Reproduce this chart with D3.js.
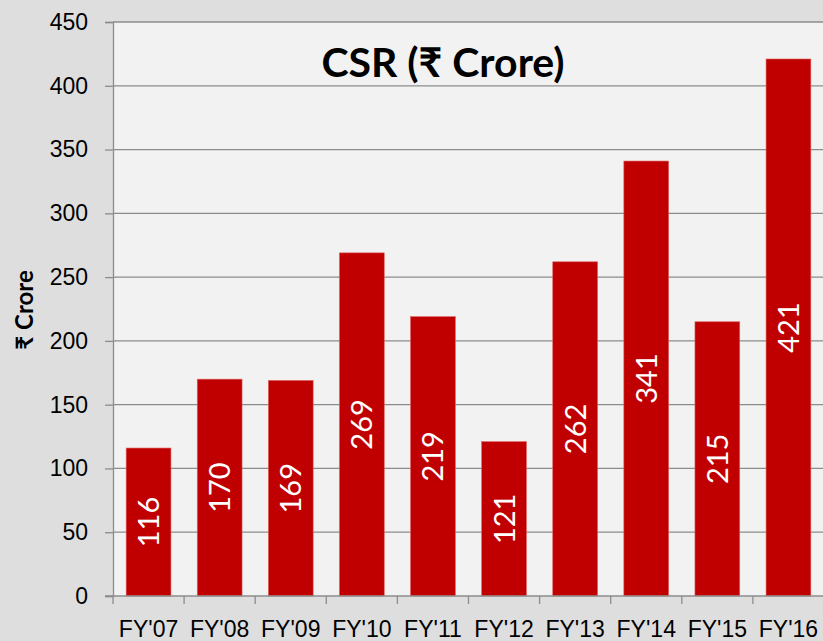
<!DOCTYPE html>
<html>
<head>
<meta charset="utf-8">
<script src="https://cdn.jsdelivr.net/npm/d3@7"></script>
<style>
  html, body { margin: 0; padding: 0; background: #dedede; }
  svg { display: block; font-family: Lato, "Open Sans", "DejaVu Sans", sans-serif; }
</style>
</head>
<body>
<div id="chart"></div>
<script>
// data
var years = ["FY'07", "FY'08", "FY'09", "FY'10", "FY'11", "FY'12", "FY'13", "FY'14", "FY'15", "FY'16"];
var csr = [116, 170, 169, 269, 219, 121, 262, 341, 215, 421];
var yTicks = [0, 50, 100, 150, 200, 250, 300, 350, 400, 450];

function drawChart() {
  var width = 823, height = 641;
  var plotLeft = 113, plotRight = 824, plotTop = 22, plotBottom = 596;

  var svg = d3.select("#chart").append("svg")
    .attr("width", width)
    .attr("height", height);

  // plot background
  svg.append("rect")
    .attr("x", plotLeft).attr("y", plotTop)
    .attr("width", plotRight - plotLeft).attr("height", plotBottom - plotTop)
    .attr("fill", "#f2f2f2");

  var x = d3.scaleBand().domain(years).range([plotLeft, plotRight]).paddingInner(0.37).paddingOuter(0.185);
  var band = d3.scaleBand().domain(years).range([plotLeft, plotRight]);
  var y = d3.scaleLinear().domain([0, 450]).range([plotBottom, plotTop]);

  // horizontal gridlines
  svg.append("g").selectAll("line")
    .data(yTicks.filter(function(d){ return d > 0; }))
    .enter().append("line")
    .attr("x1", plotLeft).attr("x2", plotRight)
    .attr("y1", function(d){ return y(d); })
    .attr("y2", function(d){ return y(d); })
    .attr("stroke", "#8c8c8c")
    .attr("stroke-width", 1.3);

  // bars
  svg.append("g").selectAll("rect")
    .data(csr)
    .enter().append("rect")
    .attr("x", function(d, i){ return x(years[i]); })
    .attr("y", function(d){ return y(d); })
    .attr("width", x.bandwidth())
    .attr("height", function(d){ return plotBottom - y(d); })
    .attr("fill", "#c00000")
    .attr("stroke", "#e06060")
    .attr("stroke-width", 0.6);

  // value labels, rotated inside the bars
  svg.append("g").selectAll("text")
    .data(csr)
    .enter().append("text")
    .attr("transform", function(d, i){
      var cx = x(years[i]) + x.bandwidth() / 2;
      var cy = (y(d) + plotBottom) / 2;
      return "translate(" + cx + "," + cy + ") rotate(-90)";
    })
    .attr("text-anchor", "middle")
    .attr("dy", "0.36em")
    .attr("fill", "#ffffff")
    .attr("font-size", 29)
    .text(function(d){ return d; });

  // y axis
  var yAxis = svg.append("g")
    .attr("transform", "translate(" + plotLeft + ",0)")
    .call(d3.axisLeft(y).tickValues(yTicks).tickSize(8).tickPadding(17));
  yAxis.select(".domain").attr("stroke", "#8c8c8c").attr("stroke-width", 1.3);
  yAxis.selectAll(".tick line").attr("stroke", "#8c8c8c").attr("stroke-width", 1.3);
  yAxis.selectAll(".tick text").attr("font-size", 23).attr("fill", "#000").attr("font-family", null);

  // x axis, ticks between categories
  var xAxis = svg.append("g")
    .attr("transform", "translate(0," + plotBottom + ")")
    .call(d3.axisBottom(band).tickSize(0).tickPadding(25));
  xAxis.select(".domain").remove();
  xAxis.selectAll(".tick text").attr("font-size", 23).attr("fill", "#000").attr("font-family", null);
  svg.append("line")
    .attr("x1", plotLeft - 8).attr("x2", plotRight)
    .attr("y1", plotBottom).attr("y2", plotBottom)
    .attr("stroke", "#8c8c8c").attr("stroke-width", 1.3);
  svg.append("g").selectAll("line")
    .data(years)
    .enter().append("line")
    .attr("x1", function(d){ return band(d); })
    .attr("x2", function(d){ return band(d); })
    .attr("y1", plotBottom).attr("y2", plotBottom + 8)
    .attr("stroke", "#8c8c8c").attr("stroke-width", 1.3);

  // titles
  svg.append("text")
    .attr("x", 443).attr("y", 77)
    .attr("text-anchor", "middle")
    .attr("font-size", 41)
    .attr("font-weight", "bold")
    .text("CSR (₹ Crore)");

  svg.append("text")
    .attr("transform", "translate(33,310) rotate(-90)")
    .attr("text-anchor", "middle")
    .attr("font-size", 24)
    .attr("font-weight", "bold")
    .text("₹ Crore");
}

drawChart();
</script>
</body>
</html>
